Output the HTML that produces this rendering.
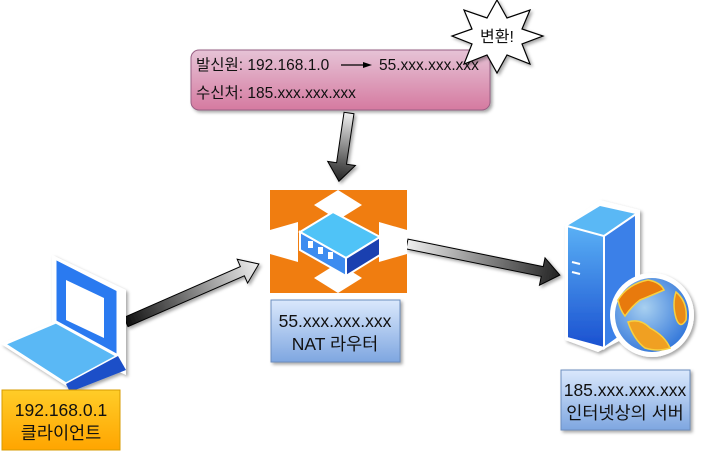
<!DOCTYPE html>
<html><head><meta charset="utf-8"><style>
html,body{margin:0;padding:0;background:#fff;}
svg{display:block;font-family:"Liberation Sans","Noto Sans CJK KR",sans-serif;}
</style></head><body>
<svg width="709" height="462" viewBox="0 0 709 462" xmlns="http://www.w3.org/2000/svg">
<defs>
<linearGradient id="pink" x1="0" y1="0" x2="0" y2="1"><stop offset="0" stop-color="#e6c3d6"/><stop offset="1" stop-color="#d57aa0"/></linearGradient>
<linearGradient id="blue" x1="0" y1="0" x2="0" y2="1"><stop offset="0" stop-color="#dae8fc"/><stop offset="1" stop-color="#7ea6e0"/></linearGradient>
<linearGradient id="yel" x1="0" y1="0" x2="0" y2="1"><stop offset="0" stop-color="#ffcd28"/><stop offset="1" stop-color="#ffa500"/></linearGradient>
<linearGradient id="arr" x1="0" y1="0" x2="1" y2="0"><stop offset="0" stop-color="#111"/><stop offset="1" stop-color="#f0f0f0"/></linearGradient>
<linearGradient id="arr2" x1="0" y1="0" x2="1" y2="0"><stop offset="0" stop-color="#f0f0f0"/><stop offset="1" stop-color="#222"/></linearGradient>
<linearGradient id="tow" x1="0" y1="0" x2="0" y2="1"><stop offset="0" stop-color="#5ab0f5"/><stop offset="1" stop-color="#1a50d0"/></linearGradient>
<radialGradient id="glob" cx="0.4" cy="0.4" r="0.7"><stop offset="0" stop-color="#a8d0f0"/><stop offset="1" stop-color="#2a70d8"/></radialGradient>
<filter id="sh"><feDropShadow dx="2" dy="2" stdDeviation="1.5" flood-opacity="0.35"/></filter>
</defs>

<!-- pink box -->
<rect x="191" y="50" width="299" height="60" rx="8" fill="url(#pink)" stroke="#996185" filter="url(#sh)"/>
<text x="196" y="70" font-size="15.5" fill="#111">발신원: 192.168.1.0</text>
<line x1="341" y1="65" x2="366" y2="65" stroke="#000" stroke-width="1.2"/>
<polygon points="372,65 363,62 363,68" fill="#000"/>
<text x="379" y="70" font-size="15.5" fill="#111">55.xxx.xxx.xxx</text>
<text x="196" y="98" font-size="15.5" fill="#111">수신처: 185.xxx.xxx.xxx</text>

<!-- star -->
<polygon points="497,0 507,18 530,10 522,29 543,36 522,44 530,64 507,55 497,73 487,55 464,64 472,44 452,36 472,29 464,10 487,18" fill="#fff" stroke="#000" stroke-width="1.2" filter="url(#sh)"/>
<text x="497" y="42" font-size="16" text-anchor="middle" fill="#111">변환!</text>

<!-- arrows -->
<g filter="url(#sh)">
<g transform="translate(349,113) rotate(98.4)"><polygon points="0,-5 51,-5 51,-14 69,0 51,14 51,5 0,5" fill="url(#arr2)" stroke="#000" stroke-width="1"/></g>
<g transform="translate(126,322) rotate(-23.6)"><polygon points="0,-5 127,-5 127,-13 145,0 127,13 127,5 0,5" fill="url(#arr)" stroke="#000" stroke-width="1"/></g>
<g transform="translate(407,244) rotate(11.5)"><polygon points="0,-5 138,-5 138,-14 156,0 138,14 138,5 0,5" fill="url(#arr2)" stroke="#000" stroke-width="1"/></g>
</g>

<!-- router -->
<rect x="270" y="190" width="137" height="103" fill="#f07d10"/>
<g fill="#fff">
<polygon points="338,190 362,205 338,220 314,205"/>
<polygon points="338,263 362,278 338,293 314,278"/>
<polygon points="270,230 298,222 298,262 270,254"/>
<polygon points="407,230 379,222 379,262 407,254"/>
</g>
<polygon points="300,232 333,212 380,237 346,258" fill="#4fc3f7" stroke="#fff" stroke-width="2"/>
<polygon points="300,232 346,258 346,276 300,250" fill="#3d8cf0" stroke="#fff" stroke-width="2"/>
<polygon points="346,258 380,237 380,255 346,276" fill="#1a40b0" stroke="#fff" stroke-width="2"/>
<g fill="#fff"><rect x="308" y="241" width="5" height="7"/><rect x="318" y="247" width="5" height="7"/><rect x="328" y="252" width="5" height="7"/></g>
<rect x="271" y="300" width="129" height="62" fill="url(#blue)" stroke="#6c8ebf" filter="url(#sh)"/>
<text x="335" y="327" font-size="17.5" text-anchor="middle" fill="#111">55.xxx.xxx.xxx</text>
<text x="335" y="350" font-size="17.5" text-anchor="middle" fill="#111">NAT 라우터</text>

<!-- laptop -->
<g filter="url(#sh)">
<polygon points="52,255 126,290 126,375 52,340" fill="#fff"/>
<polygon points="55,258 118,290 118,368 55,336" fill="#2a7af0" stroke="#fff" stroke-width="3"/>
<polygon points="66,280 104,298 104,338 66,320" fill="#fff"/>
<polygon points="4,344 56,322 118,356 66,384" fill="#5ab8f5" stroke="#fff" stroke-width="3"/>
<polygon points="66,384 118,356 126,370 70,392" fill="#1a50c8"/>
</g>
<rect x="2" y="390" width="118" height="60" fill="url(#yel)" stroke="#d79b00"/>
<text x="61" y="416" font-size="17.5" text-anchor="middle" fill="#111">192.168.0.1</text>
<text x="61" y="439" font-size="17.5" text-anchor="middle" fill="#111">클라이언트</text>

<!-- server -->
<g filter="url(#sh)">
<polygon points="565,225 600,200 640,210 640,330 598,352 565,340" fill="#fff"/>
<polygon points="567,226 600,206 636,214 604,236" fill="#5ab8f5"/>
<polygon points="567,226 604,236 604,348 567,338" fill="url(#tow)" stroke="#fff" stroke-width="2"/>
<polygon points="604,236 636,214 636,325 604,348" fill="#3a80e8" stroke="#fff" stroke-width="2"/>
<line x1="572" y1="262" x2="580" y2="264" stroke="#fff" stroke-width="2"/>
<line x1="572" y1="272" x2="580" y2="274" stroke="#fff" stroke-width="2"/>
<circle cx="652" cy="315" r="42" fill="#fff"/>
<circle cx="652" cy="315" r="37" fill="url(#glob)"/>
<path d="M618,300 Q628,284 648,280 Q660,282 664,290 Q650,296 640,300 Q632,306 625,316 Q620,310 618,300Z" fill="#e87a10" stroke="#f8d040" stroke-width="1.5"/>
<path d="M628,322 Q640,318 650,328 Q665,336 670,348 Q658,352 645,348 Q634,340 628,322Z" fill="#f0a020" stroke="#f8d040" stroke-width="1.5"/>
<path d="M676,292 Q688,302 686,320 Q680,330 676,318 Q672,304 676,292Z" fill="#e88a18" stroke="#f8d040" stroke-width="1.5"/>
</g>
<rect x="561" y="370" width="129" height="60" fill="url(#blue)" stroke="#6c8ebf" filter="url(#sh)"/>
<text x="625" y="396" font-size="17.5" text-anchor="middle" fill="#111">185.xxx.xxx.xxx</text>
<text x="625" y="419" font-size="17.5" text-anchor="middle" fill="#111">인터넷상의 서버</text>
</svg>
</body></html>
